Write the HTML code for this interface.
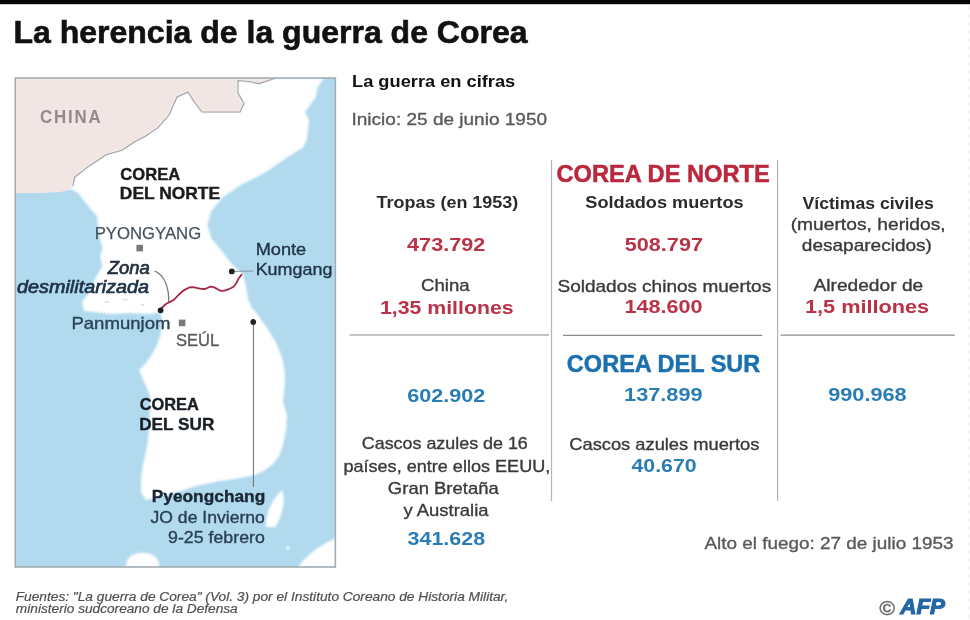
<!DOCTYPE html>
<html lang="es"><head><meta charset="utf-8"><title>La herencia de la guerra de Corea</title>
<style>
html,body{margin:0;padding:0;background:#fff;}
body{width:970px;height:620px;position:relative;overflow:hidden;font-family:'Liberation Sans',"DejaVu Sans",sans-serif;}
.t{position:absolute;white-space:nowrap;line-height:1;transform-origin:0 0;}
svg{position:absolute;left:0;top:0;}
</style></head><body>
<svg width="970" height="620" viewBox="0 0 970 620">
<defs><clipPath id="mc"><rect x="15.5" y="78" width="319.5" height="489"/></clipPath>
<filter id="bl" x="-10%" y="-10%" width="120%" height="120%"><feGaussianBlur stdDeviation="0.9"/></filter></defs>
<rect x="0" y="0" width="970" height="4.2" fill="#050505"/>
<g clip-path="url(#mc)">
<rect x="15" y="78" width="321" height="490" fill="#b1daef"/>
<polygon fill="#f2e6e4" points="15,78 276,78 271.6,79.4 259,83.6 248.6,81.5 238,80.5 238,93 244,103.5 240,112 219,112 202,112 194,101.5 188,92 177,97 169,115 158,127.7 144.5,136.7 135.4,141.3 121.9,150.3 106,154.8 99.3,159.3 85.8,168.4 74.5,177.4 73,186 70,190 60,192 40,193 15,193"/>
<g filter="url(#bl)">
<polygon fill="#ffffff" points="73,186 74.5,177.4 85.8,168.4 99.3,159.3 106,154.8 121.9,150.3 135.4,141.3 144.5,136.7 158,127.7 169,115 177,97 188,92 194,101.5 202,112 219,112 240,112 244,103.5 238,93 238,80.5 248.6,81.5 259,83.6 271.6,79.4 276,78 324,78 317.8,86.8 315.7,97 305,112 309,120 307,139 303,147.6 286,158 269,170 255,178 241.6,184.5 222.4,197.4 211.4,211 207.3,224.8 211.4,238.5 222.4,252 233.4,265.9 243,274 245.7,285 248.4,300 252,308 257.5,314.5 267.7,329 276.4,343.5 282.2,358 285,372.5 284.5,387 283,401.4 287,416 286,430 283,445 279,456 273,464 265,470 256,474.5 246,477 234,479 220,481 205,484 196,486 184,490 170,494 158,497 146,500 141,492 141,478 143,465 146,452 148,440 149,425 150,410 150,396 146,386 139,370 145,364 151,356 157,345 161,333 162,320 160.6,312 150,314 130,313 110,314 95,312 84,311 82,302 89,293 97,275 102.5,266 100,257 102.5,248 100,239 98,225 97,216 89,207 82,198 77,192 70,189"/>
<path d="M126,568 C126,556 134,552.5 143,552.8 C152,553 160,557 159.4,568 Z" fill="#fff"/>
<path d="M266,527 C265,515 272,499 282,490 C286,500 282,517 275,527 Z" fill="#fff"/>
<path d="M298,568 C303,558 318,546 336,538 L336,568 Z" fill="#fff"/>
<circle cx="288" cy="548" r="1.8" fill="#fff"/>
</g>
<path d="M104,302 q3,-2 6,0 q-3,2 -6,0 M122,299 q4,-1 7,1 q-4,2 -7,-1 M140,305 q3,-2 5,0 q-2,2 -5,0" fill="#cfe7f4"/>
<polyline fill="none" stroke="#a7a0a0" stroke-width="1.1" points="73,186 74.5,177.4 85.8,168.4 99.3,159.3 106,154.8 121.9,150.3 135.4,141.3 144.5,136.7 158,127.7 169,115 177,97 188,92 194,101.5 202,112 219,112 240,112 244,103.5 238,93 238,80.5 248.6,81.5 259,83.6 271.6,79.4 276,78"/>
</g>
<rect x="15.25" y="78.0" width="320.1" height="489" fill="none" stroke="#a3adb3" stroke-width="1.6"/>
<!-- DMZ -->
<path d="M160.6,309 L165.6,304.3 C169,302 171,301.5 173.9,299.7 C176.5,297.5 178,295 180.4,293.2 C182.5,291 184.5,289.5 186.9,288.6 C189,287.6 190.5,287.2 192.5,287.2 C195.5,287.3 197.5,288.2 199.9,288.6 C201.5,288.9 203,289.1 204.5,289 C207,288.6 209,286.8 211,286.7 C213,286.7 214,287.4 215.7,288.1 C217.5,289 219.3,290.7 221.2,290.9 C223.2,291 225,290.6 226.8,289.9 C229.5,288.8 232,287.8 234.2,286.2 C236.5,284 237.5,280.5 238.8,278.3 L241.6,274.6" fill="none" stroke="#a42a45" stroke-width="1.8" stroke-linecap="round"/>
<path d="M154.5,271 C161,273.5 166.5,281 168.3,293 C168.8,297 168.8,299 168.5,302" fill="none" stroke="#74787c" stroke-width="1.3"/>
<line x1="233.6" y1="271.4" x2="253.5" y2="271.0" stroke="#7a8a96" stroke-width="0.9"/>
<line x1="253.4" y1="322.5" x2="253.4" y2="487" stroke="#6d6d6d" stroke-width="1"/>
<circle cx="160.6" cy="310.3" r="2.9" fill="#222"/>
<circle cx="231.8" cy="271.4" r="2.9" fill="#222"/>
<circle cx="253.3" cy="322" r="2.9" fill="#222"/>
<rect x="136.4" y="244.8" width="6.6" height="6.6" fill="#7a7a7a"/>
<rect x="178.8" y="319.6" width="6.6" height="6.6" fill="#7a7a7a"/>
<!-- dividers -->
<line x1="968.5" y1="6" x2="968.5" y2="620" stroke="#ececec" stroke-width="1" stroke-dasharray="4,4"/>
<line x1="551.5" y1="160" x2="551.5" y2="501" stroke="#b5b5b5" stroke-width="1.2"/>
<line x1="777.6" y1="160" x2="777.6" y2="501" stroke="#b5b5b5" stroke-width="1.2"/>
<line x1="349.5" y1="335" x2="549" y2="335" stroke="#8a8a8a" stroke-width="1.2"/>
<line x1="563" y1="335.3" x2="762.2" y2="335.3" stroke="#8a8a8a" stroke-width="1.2"/>
<line x1="780.6" y1="335.2" x2="954.8" y2="335.2" stroke="#8a8a8a" stroke-width="1.2"/>
<g font-family="Liberation Sans, DejaVu Sans, sans-serif"><text x="13.42" y="43.00" font-size="31.69" fill="#111" textLength="514.20" lengthAdjust="spacingAndGlyphs" font-weight="bold" stroke="#111" stroke-width="0.6">La herencia de la guerra de Corea</text>
<text x="39.91" y="122.70" font-size="18.02" fill="#938b8b" textLength="62.48" lengthAdjust="spacingAndGlyphs" font-weight="bold" letter-spacing="1.92">CHINA</text>
<text x="120.34" y="179.80" font-size="16.57" fill="#1c1c1c" textLength="59.83" lengthAdjust="spacingAndGlyphs" font-weight="bold" stroke="#1c1c1c" stroke-width="0.4">COREA</text>
<text x="119.87" y="199.20" font-size="16.57" fill="#1c1c1c" textLength="100.17" lengthAdjust="spacingAndGlyphs" font-weight="bold" stroke="#1c1c1c" stroke-width="0.4">DEL NORTE</text>
<text x="94.66" y="238.50" font-size="17.15" fill="#46535e" textLength="106.56" lengthAdjust="spacingAndGlyphs" stroke="#46535e" stroke-width="0.25">PYONGYANG</text>
<text x="107.77" y="274.30" font-size="18.60" fill="#25313c" textLength="42.01" lengthAdjust="spacingAndGlyphs" font-style="italic" stroke="#25313c" stroke-width="0.7">Zona</text>
<text x="17.11" y="292.90" font-size="18.60" fill="#1e3347" textLength="131.91" lengthAdjust="spacingAndGlyphs" font-style="italic" stroke="#1e3347" stroke-width="0.7">desmilitarizada</text>
<text x="255.65" y="254.80" font-size="16.86" fill="#213546" textLength="50.50" lengthAdjust="spacingAndGlyphs" stroke="#213546" stroke-width="0.35">Monte</text>
<text x="255.67" y="274.60" font-size="16.86" fill="#213546" textLength="76.73" lengthAdjust="spacingAndGlyphs" stroke="#213546" stroke-width="0.35">Kumgang</text>
<text x="71.41" y="328.80" font-size="16.72" fill="#2a4458" textLength="99.05" lengthAdjust="spacingAndGlyphs" stroke="#2a4458" stroke-width="0.35">Panmunjom</text>
<text x="175.96" y="346.20" font-size="17.15" fill="#5a5a5a" textLength="43.16" lengthAdjust="spacingAndGlyphs" stroke="#5a5a5a" stroke-width="0.35">SEÚL</text>
<text x="139.64" y="410.30" font-size="17.30" fill="#1a1f26" textLength="59.32" lengthAdjust="spacingAndGlyphs" font-weight="bold" stroke="#1a1f26" stroke-width="0.4">COREA</text>
<text x="139.19" y="430.40" font-size="17.30" fill="#1a1f26" textLength="75.11" lengthAdjust="spacingAndGlyphs" font-weight="bold" stroke="#1a1f26" stroke-width="0.4">DEL SUR</text>
<text x="151.78" y="502.40" font-size="16.86" fill="#1b2733" textLength="113.46" lengthAdjust="spacingAndGlyphs" font-weight="bold" stroke="#1b2733" stroke-width="0.4">Pyeongchang</text>
<text x="150.54" y="522.60" font-size="15.99" fill="#2a4058" textLength="114.29" lengthAdjust="spacingAndGlyphs" stroke="#2a4058" stroke-width="0.35">JO de Invierno</text>
<text x="168.00" y="542.80" font-size="15.99" fill="#2a4058" textLength="96.83" lengthAdjust="spacingAndGlyphs" stroke="#2a4058" stroke-width="0.35">9-25 febrero</text>
<text x="352.01" y="87.20" font-size="16.42" fill="#111" textLength="163.25" lengthAdjust="spacingAndGlyphs" font-weight="bold">La guerra en cifras</text>
<text x="351.49" y="124.60" font-size="17.15" fill="#5a5a5a" textLength="195.60" lengthAdjust="spacingAndGlyphs" stroke="#5a5a5a" stroke-width="0.35">Inicio: 25 de junio 1950</text>
<text x="556.46" y="182.20" font-size="24.56" fill="#b9283b" textLength="213.31" lengthAdjust="spacingAndGlyphs" font-weight="bold" stroke="#b9283b" stroke-width="0.5">COREA DE NORTE</text>
<text x="376.62" y="207.80" font-size="17.15" fill="#2a2a2a" textLength="141.64" lengthAdjust="spacingAndGlyphs" font-weight="bold">Tropas (en 1953)</text>
<text x="585.35" y="208.10" font-size="17.15" fill="#2a2a2a" textLength="158.21" lengthAdjust="spacingAndGlyphs" font-weight="bold">Soldados muertos</text>
<text x="802.51" y="208.50" font-size="17.15" fill="#2a2a2a" textLength="131.33" lengthAdjust="spacingAndGlyphs" font-weight="bold">Víctimas civiles</text>
<text x="790.65" y="229.60" font-size="17.15" fill="#3a3a3a" textLength="155.04" lengthAdjust="spacingAndGlyphs" stroke="#3a3a3a" stroke-width="0.35">(muertos, heridos,</text>
<text x="801.84" y="251.30" font-size="17.15" fill="#3a3a3a" textLength="130.06" lengthAdjust="spacingAndGlyphs" stroke="#3a3a3a" stroke-width="0.35">desaparecidos)</text>
<text x="407.08" y="251.00" font-size="18.02" fill="#ba3245" textLength="78.21" lengthAdjust="spacingAndGlyphs" font-weight="bold">473.792</text>
<text x="624.75" y="251.40" font-size="18.02" fill="#ba3245" textLength="78.24" lengthAdjust="spacingAndGlyphs" font-weight="bold">508.797</text>
<text x="421.07" y="290.60" font-size="17.15" fill="#3a3a3a" textLength="48.56" lengthAdjust="spacingAndGlyphs" stroke="#3a3a3a" stroke-width="0.35">China</text>
<text x="557.44" y="291.50" font-size="17.15" fill="#3a3a3a" textLength="213.72" lengthAdjust="spacingAndGlyphs" stroke="#3a3a3a" stroke-width="0.35">Soldados chinos muertos</text>
<text x="813.50" y="291.20" font-size="17.15" fill="#3a3a3a" textLength="109.69" lengthAdjust="spacingAndGlyphs" stroke="#3a3a3a" stroke-width="0.35">Alrededor de</text>
<text x="380.02" y="314.00" font-size="18.31" fill="#ba3245" textLength="133.54" lengthAdjust="spacingAndGlyphs" font-weight="bold">1,35 millones</text>
<text x="624.61" y="313.40" font-size="18.02" fill="#ba3245" textLength="77.97" lengthAdjust="spacingAndGlyphs" font-weight="bold">148.600</text>
<text x="805.00" y="313.00" font-size="18.31" fill="#ba3245" textLength="124.19" lengthAdjust="spacingAndGlyphs" font-weight="bold">1,5 millones</text>
<text x="566.87" y="371.50" font-size="24.56" fill="#1c70ae" textLength="193.44" lengthAdjust="spacingAndGlyphs" font-weight="bold" stroke="#1c70ae" stroke-width="0.5">COREA DEL SUR</text>
<text x="407.24" y="401.60" font-size="18.02" fill="#2a7cb4" textLength="78.14" lengthAdjust="spacingAndGlyphs" font-weight="bold">602.902</text>
<text x="624.10" y="401.20" font-size="18.02" fill="#2a7cb4" textLength="78.49" lengthAdjust="spacingAndGlyphs" font-weight="bold">137.899</text>
<text x="828.15" y="401.20" font-size="18.02" fill="#2a7cb4" textLength="78.52" lengthAdjust="spacingAndGlyphs" font-weight="bold">990.968</text>
<text x="361.81" y="449.30" font-size="17.15" fill="#3a3a3a" textLength="166.03" lengthAdjust="spacingAndGlyphs" stroke="#3a3a3a" stroke-width="0.35">Cascos azules de 16</text>
<text x="343.42" y="472.00" font-size="17.15" fill="#3a3a3a" textLength="206.87" lengthAdjust="spacingAndGlyphs" stroke="#3a3a3a" stroke-width="0.35">países, entre ellos EEUU,</text>
<text x="387.88" y="494.20" font-size="17.15" fill="#3a3a3a" textLength="110.85" lengthAdjust="spacingAndGlyphs" stroke="#3a3a3a" stroke-width="0.35">Gran Bretaña</text>
<text x="403.50" y="516.20" font-size="17.15" fill="#3a3a3a" textLength="85.03" lengthAdjust="spacingAndGlyphs" stroke="#3a3a3a" stroke-width="0.35">y Australia</text>
<text x="407.57" y="544.60" font-size="18.02" fill="#2a7cb4" textLength="77.59" lengthAdjust="spacingAndGlyphs" font-weight="bold">341.628</text>
<text x="569.29" y="450.30" font-size="17.15" fill="#3a3a3a" textLength="190.05" lengthAdjust="spacingAndGlyphs" stroke="#3a3a3a" stroke-width="0.35">Cascos azules muertos</text>
<text x="631.48" y="471.60" font-size="18.02" fill="#2a7cb4" textLength="65.09" lengthAdjust="spacingAndGlyphs" font-weight="bold">40.670</text>
<text x="704.40" y="548.90" font-size="17.15" fill="#5a5a5a" textLength="249.08" lengthAdjust="spacingAndGlyphs" stroke="#5a5a5a" stroke-width="0.35">Alto el fuego: 27 de julio 1953</text>
<text x="15.69" y="600.50" font-size="12.50" fill="#505050" textLength="492.56" lengthAdjust="spacingAndGlyphs" font-style="italic" stroke="#505050" stroke-width="0.2">Fuentes: "La guerra de Corea" (Vol. 3) por el Instituto Coreano de Historia Militar,</text>
<text x="879.38" y="614.60" font-size="20.64" fill="#707070" textLength="15.88" lengthAdjust="spacingAndGlyphs" font-weight="bold" stroke="#707070" stroke-width="0.3">©</text>
<text x="900.26" y="613.70" font-size="21.51" fill="#2466a6" textLength="44.77" lengthAdjust="spacingAndGlyphs" font-weight="bold" font-style="italic" stroke="#2466a6" stroke-width="1.1">AFP</text>
<text x="15.89" y="612.50" font-size="12.50" fill="#505050" textLength="221.83" lengthAdjust="spacingAndGlyphs" font-style="italic" stroke="#505050" stroke-width="0.2">ministerio sudcoreano de la Defensa</text></g></svg>

</body></html>
